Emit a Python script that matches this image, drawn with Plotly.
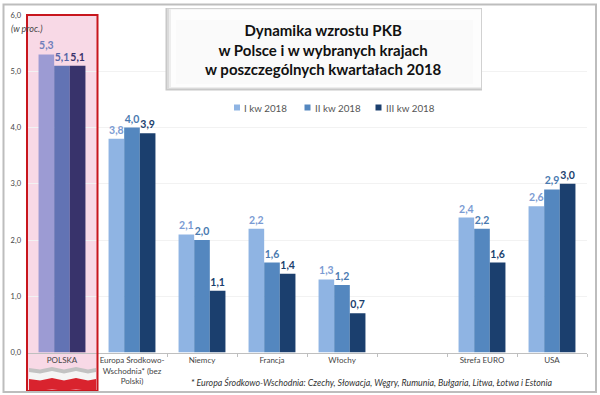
import plotly.graph_objects as go

categories = ["POLSKA", "Europa Środkowo-<br>Wschodnia* (bez<br>Polski)", "Niemcy", "Francja", "Włochy", " ", "Strefa EURO", "USA"]
q1 = [5.3, 3.8, 2.1, 2.2, 1.3, None, 2.4, 2.6]
q2 = [5.1, 4.0, 2.0, 1.6, 1.2, None, 2.2, 2.9]
q3 = [5.1, 3.9, 1.1, 1.4, 0.7, None, 1.6, 3.0]
names = ["I kw 2018", "II kw 2018", "III kw 2018"]
colors = ["#8FB4E3", "#5487BF", "#1B3F6E"]
pl_colors = ["#9C9BD3", "#6273B4", "#38336B"]
label_colors = ["#7B9BD3", "#4A7AB0", "#1B3F6E"]
pl_label_colors = ["#6F7FBB", "#5766A6", "#38336B"]
title_lines = ["Dynamika wzrostu PKB", "w Polsce i w wybranych krajach", "w poszczególnych kwartałach 2018"]
font = "Lato"

W, H = 600, 395
L, R, T, B = 27, 587, 15, 352.5
def px(x): return x / W
def py(y): return 1 - y / H

fig = go.Figure()
for i, vals in enumerate([q1, q2, q3]):
    fig.add_trace(go.Bar(
        x=categories, y=vals, name=names[i], showlegend=False,
        marker=dict(color=[pl_colors[i]] + [colors[i]] * 7, line_width=0),
        text=[None if v is None else f"{v:.1f}".replace(".", ",") for v in vals],
        textposition="outside", cliponaxis=False, constraintext="none",
        textfont=dict(family=font, size=10.5, color=[pl_label_colors[i]] + [label_colors[i]] * 7,
                      weight=700),
    ))

def wave(top, bottom):
    xs = [29, 40, 52, 64, 76, 88, 96]
    dy = [0, 1.5, -1, 1.5, -1, 1.5, 0]
    p = f"M{px(xs[0])},{py(top + dy[0])}"
    for x, d in zip(xs[1:], dy[1:]):
        p += f" L{px(x)},{py(top + d)}"
    for x, d in zip(reversed(xs), reversed(dy)):
        p += f" L{px(x)},{py(bottom + d * 0.4)}"
    return p + " Z"

def box(x0, x1, y0, y1, fill):
    return dict(type="rect", xref="paper", yref="paper", x0=px(x0), x1=px(x1), y0=py(y1), y1=py(y0),
                line=dict(width=0), fillcolor=fill, layer="above")

shapes = [
    dict(type="rect", xref="paper", yref="paper", x0=px(27), x1=px(97.5), y0=py(391), y1=py(15),
         line=dict(width=0), fillcolor="#F8D9E6", layer="below"),
    box(165.5, 482, 8, 90.5, "#C8C8C8"),
    box(167, 481.5, 8.5, 89, "#DADADA"),
    box(169, 481, 9, 88, "#EDEDED"),
    box(171, 481, 9.5, 87, "#FDFDFD"),
    box(176, 473, 20, 84, "#FAFAFA"),
    dict(type="path", xref="paper", yref="paper", path=wave(368, 380), line=dict(width=0), fillcolor="#C2C2C2", layer="above"),
    dict(type="path", xref="paper", yref="paper", path=wave(372, 380), line=dict(width=0), fillcolor="#F5F5F5", layer="above"),
    dict(type="path", xref="paper", yref="paper", path=wave(379, 390), line=dict(width=0), fillcolor="#D9232E", layer="above"),
    dict(type="rect", xref="paper", yref="paper", x0=px(27), x1=px(97.5), y0=py(391), y1=py(15),
         line=dict(color="#C8161D", width=2), fillcolor="rgba(0,0,0,0)", layer="above"),
    dict(type="rect", xref="paper", yref="paper", x0=px(3.5), x1=px(596), y0=py(392), y1=py(4.5),
         line=dict(color="#BDBDBD", width=2), fillcolor="rgba(0,0,0,0)", layer="above"),
]

annotations = [
    dict(text="<br>".join(title_lines), xref="paper", yref="paper", x=px(323), y=py(49), xanchor="center",
         yanchor="middle", showarrow=False, align="center", font=dict(family=font, size=15, color="#111111", weight=700)),
    dict(text="(w proc.)", xref="paper", yref="paper", x=px(9), y=py(29), xanchor="left", yanchor="middle",
         showarrow=False, font=dict(family=font, size=9, color="#444444", style="italic")),
    dict(text="* Europa Środkowo-Wschodnia: Czechy, Słowacja, Węgry, Rumunia, Bułgaria, Litwa, Łotwa i Estonia",
         xref="paper", yref="paper", x=px(189), y=py(382), xanchor="left", yanchor="middle", showarrow=False,
         font=dict(family=font, size=8.8, color="#333333", style="italic")),
]
for x0, i in zip([237, 307.5, 378.5], range(3)):
    shapes.append(dict(type="rect", xref="paper", yref="paper", x0=px(x0 - 3), x1=px(x0 + 3), y0=py(110.5), y1=py(104.5),
                       line=dict(width=0), fillcolor=colors[i], layer="above"))
    annotations.append(dict(text=names[i], xref="paper", yref="paper", x=px(x0 + 5), y=py(107.5), xanchor="left",
                            yanchor="middle", showarrow=False, font=dict(family=font, size=9.8, color="#555555")))

fig.update_layout(
    width=W, height=H, autosize=False,
    margin=dict(l=0, r=0, t=0, b=0),
    paper_bgcolor="white", plot_bgcolor="rgba(0,0,0,0)",
    barmode="group", bargap=0.33, bargroupgap=0,
    showlegend=False, separators=",.",
    shapes=shapes, annotations=annotations,
    xaxis=dict(domain=[px(L), px(R)], type="category", categoryorder="array", categoryarray=categories,
               automargin=False, showgrid=False, showline=True, linecolor="#BFBFBF", linewidth=1,
               ticks="outside", ticklen=3, tickcolor="#BFBFBF", tickson="boundaries",
               tickfont=dict(family=font, size=8, color="#444444"), tickangle=0),
    yaxis=dict(domain=[py(B), py(T)], range=[0, 6], dtick=1, tickformat=".1f", automargin=False,
               showgrid=True, gridcolor="#F2F2F2", gridwidth=1, zeroline=False, ticklabelstandoff=5,
               showline=False, ticks="", tickfont=dict(family=font, size=7.5, color="#444444")),
)
fig.write_html("out.html", config=dict(displayModeBar=False),
               post_script="document.body.style.margin='0';document.body.style.overflow='hidden';")
